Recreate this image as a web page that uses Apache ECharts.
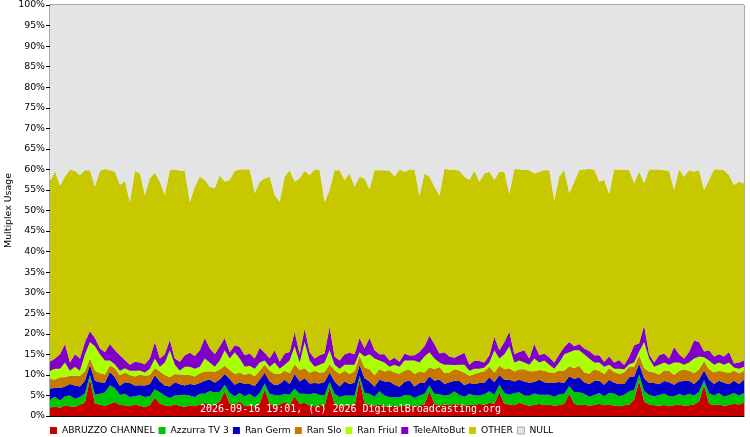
<!DOCTYPE html>
<html>
<head>
<meta charset="utf-8">
<script src="https://cdn.jsdelivr.net/npm/echarts@6/dist/echarts.min.js"></script>
<style>
html,body{margin:0;padding:0;background:#fff;}
#chart{width:750px;height:437px;}
</style>
</head>
<body>
<div id="chart"></div>
<script>
const seriesNames = ['ABRUZZO CHANNEL','Azzurra TV 3','Ran Germ','Ran Slo','Ran Friul','TeleAltoBut','OTHER','NULL'];
const seriesColors = ['#c80000','#00c800','#0000c8','#c87800','#aaff00','#8000c8','#c8c800','#e4e4e4'];
const yTicks = [0,5,10,15,20,25,30,35,40,45,50,55,60,65,70,75,80,85,90,95,100];

const abruzzo = [2.0,2.3,2.0,2.6,2.4,2.2,2.8,3.2,9.0,3.0,2.8,2.5,2.9,3.4,2.7,2.6,2.4,2.8,2.5,2.2,
2.6,4.5,3.0,2.6,2.4,2.8,2.5,2.2,2.6,2.4,2.8,3.2,2.5,2.7,3.5,6.0,3.0,2.6,3.6,2.4,
2.6,2.3,3.0,6.5,3.0,2.5,2.8,3.4,2.6,4.8,3.0,3.2,2.5,2.4,2.7,2.5,7.0,3.0,2.6,2.4,
2.8,2.5,8.8,3.2,2.6,2.5,2.8,2.4,2.2,2.6,2.3,2.5,2.7,2.4,2.6,2.8,6.0,3.0,2.5,2.8,
2.6,3.0,2.7,2.5,2.8,2.6,3.0,2.7,3.2,3.0,5.8,3.0,2.8,2.6,3.2,2.8,2.5,2.7,3.0,2.6,
2.8,2.5,2.7,3.0,5.5,3.0,2.6,2.8,2.5,2.7,3.0,2.6,2.8,2.5,2.4,2.6,2.8,4.0,8.5,3.5,
2.8,2.6,2.5,2.7,2.4,2.6,2.8,2.5,2.6,2.8,3.5,7.5,3.0,2.6,2.8,2.5,2.7,3.0,2.8,3.2];

const azzurra = [2.0,2.4,1.8,2.2,2.6,2.0,1.8,2.4,1.0,2.2,2.6,3.2,4.6,3.4,2.4,2.8,2.2,2.0,2.6,2.4,
2.2,2.0,2.8,2.4,2.0,2.2,2.6,3.0,2.4,2.2,2.6,2.2,3.6,3.0,2.4,1.6,2.6,2.2,2.0,2.4,
2.8,2.2,2.6,1.4,2.4,2.6,2.2,2.0,2.6,1.8,2.4,2.2,2.8,3.2,2.4,2.6,1.2,2.4,2.0,2.6,
2.2,2.4,1.0,2.4,2.8,2.2,3.2,2.6,2.4,2.0,2.2,2.6,2.4,2.0,2.4,2.6,1.4,2.4,2.8,2.2,
2.6,3.0,2.4,2.2,2.6,2.4,2.0,2.6,2.8,2.2,1.8,2.6,2.4,3.0,2.6,2.2,2.4,2.8,2.2,2.6,
2.4,2.2,2.6,2.4,1.8,2.8,3.2,2.6,2.2,2.4,2.6,2.2,2.8,3.0,2.4,2.6,3.2,2.4,1.6,2.6,
2.4,2.2,2.6,2.8,2.4,2.2,2.6,2.4,2.8,2.2,2.4,1.2,2.6,2.4,2.8,2.2,2.4,2.6,2.2,2.4];

const ranGerm = [2.6,2.2,3.0,2.4,2.8,3.2,2.6,3.0,2.5,3.4,2.8,2.4,3.2,2.6,2.2,2.8,3.4,2.6,2.4,2.8,
3.0,3.4,2.6,2.4,2.8,3.2,2.6,2.2,2.8,3.0,2.6,3.2,2.8,2.4,3.0,2.6,3.4,2.8,2.6,3.0,
2.4,2.8,3.2,2.6,3.0,2.4,2.8,3.4,2.6,3.6,3.0,3.8,2.6,2.4,2.8,3.2,2.4,3.0,2.6,3.4,
2.8,3.2,2.6,3.6,3.0,2.4,2.8,3.4,3.8,3.0,2.6,3.2,3.6,2.8,3.0,2.6,2.2,3.2,3.6,2.8,
3.0,2.6,3.4,2.8,2.6,2.8,3.0,2.8,3.4,3.0,2.4,3.2,3.6,2.8,3.0,3.4,3.2,2.8,3.6,3.0,
2.8,3.4,3.0,2.6,2.4,3.2,3.6,2.8,3.0,3.4,3.0,2.8,3.2,2.6,3.0,2.6,3.4,3.2,2.6,3.0,
2.8,3.2,2.6,3.0,3.4,2.8,3.0,3.6,3.2,2.8,3.0,2.4,3.2,2.8,3.0,3.4,2.6,3.0,2.8,3.2];

const ranSlo = [2.4,2.0,2.6,2.2,2.0,2.4,2.6,2.2,1.6,2.4,2.2,2.0,1.6,2.2,2.6,2.4,2.0,2.2,2.6,2.4,
2.2,1.8,2.4,2.6,2.2,2.0,2.4,2.6,2.2,2.0,2.4,2.2,2.0,2.6,2.4,2.0,2.2,2.6,2.4,2.2,
2.6,2.4,2.2,2.0,2.6,2.8,2.4,2.2,2.6,2.4,2.8,2.4,2.6,3.0,2.6,2.4,2.0,2.8,3.0,2.6,
2.4,2.8,2.2,2.6,3.0,2.8,2.6,2.4,2.8,3.0,3.2,2.8,2.6,3.0,2.8,2.6,2.2,2.8,3.0,2.6,
2.4,2.8,2.6,3.0,1.8,2.4,2.6,2.8,2.6,2.4,2.2,2.6,2.8,2.4,2.6,3.0,2.8,2.6,2.4,2.8,
2.6,2.4,2.8,3.0,2.4,2.6,2.8,2.4,2.6,2.8,2.4,2.6,2.8,2.6,2.4,2.8,2.6,2.4,2.0,2.6,
2.8,2.6,2.4,2.6,2.8,2.4,2.6,2.8,2.4,2.6,2.4,2.2,2.6,2.8,2.4,2.6,2.8,2.4,2.6,2.2];

const ranFriul = [2.0,2.6,2.1,3.6,1.2,2.2,1.2,4.2,3.9,6.0,4.6,3.4,1.2,1.0,1.1,1.0,1.0,1.4,1.0,0.8,
1.5,2.3,1.2,3.0,6.6,2.3,1.0,2.0,2.0,1.9,1.6,3.2,2.1,1.3,2.2,3.8,2.8,5.3,3.4,2.0,
1.8,1.8,2.0,1.0,1.0,2.7,1.3,1.5,3.1,4.4,1.8,6.4,3.0,1.0,2.0,2.3,3.4,1.3,1.3,1.5,
2.3,1.6,0.9,2.7,3.6,4.1,2.1,2.2,0.8,1.9,1.7,2.4,2.2,3.3,2.2,3.9,3.7,2.6,1.1,2.1,
1.9,1.0,1.4,2.0,1.2,1.3,0.9,0.9,1.0,5.4,1.8,3.6,5.4,2.2,2.1,1.6,1.6,3.1,1.8,2.5,
1.9,1.0,1.9,4.0,3.4,4.4,3.8,4.4,3.7,1.7,2.0,1.8,0.9,0.8,1.3,0.8,0.6,1.0,1.0,6.3,
3.2,1.4,2.4,1.9,1.5,3.0,2.0,1.2,2.0,3.6,3.2,1.0,2.1,1.9,2.0,1.8,2.5,0.8,1.1,1.0];

const teleAltoBut = [2.2,2.5,3.5,4.5,2.0,3.0,3.0,3.0,2.6,2.0,1.5,2.0,4.0,3.4,3.8,2.0,1.5,2.2,1.9,2.0,
2.5,4.0,2.0,2.0,2.5,1.5,2.1,2.8,3.4,3.1,4.0,5.0,3.5,3.0,3.5,3.0,1.5,1.7,2.8,2.8,
3.0,2.5,3.6,1.9,2.0,3.0,1.7,2.7,2.1,3.5,2.0,3.3,2.1,2.0,2.3,2.2,5.7,2.0,2.0,2.5,
2.9,2.5,3.5,2.0,4.0,2.0,1.5,2.0,1.5,1.7,1.2,1.7,1.2,1.3,2.6,2.5,4.0,3.5,2.2,3.0,
2.0,1.8,2.3,2.9,1.5,2.0,1.9,1.2,1.8,3.3,2.0,3.0,3.5,2.0,2.1,3.0,1.5,3.5,1.8,1.7,
1.8,1.5,2.0,1.8,2.5,1.0,1.5,1.4,1.8,1.8,1.8,1.2,2.0,1.5,2.1,1.0,1.8,4.2,2.0,4.0,
1.0,1.0,2.3,2.2,1.5,3.8,2.0,1.5,2.6,4.4,3.5,1.4,2.5,2.0,2.0,2.0,2.6,1.0,1.5,1.5];

// top edge of the used part (sum of all services incl. OTHER)
const usedTotal = [57.0,59.6,56.0,58.2,60.0,59.6,58.6,59.8,59.8,55.8,59.6,60.1,59.8,59.4,56.2,57.2,52.0,59.7,59.0,53.8,
57.8,59.2,57.0,53.8,59.8,60.0,59.7,59.7,52.0,55.8,58.2,57.4,55.8,55.4,58.6,57.0,57.4,59.7,60.0,60.0,
60.0,54.2,57.0,57.8,58.2,53.8,52.1,58.2,59.8,57.0,57.8,59.7,58.6,60.0,59.8,52.0,55.0,59.8,59.8,57.4,
59.0,55.8,58.2,57.8,55.2,59.8,59.8,59.8,59.7,58.2,60.0,59.4,59.9,60.0,53.5,59.0,58.2,55.8,53.6,60.1,
60.0,59.9,59.7,58.2,57.4,59.7,57.0,59.0,59.4,57.4,59.4,59.4,54.0,60.1,60.0,59.9,59.8,59.0,59.4,59.8,
59.8,52.5,58.2,59.8,54.2,57.0,59.8,60.0,60.1,60.0,57.0,57.4,54.0,60.0,60.0,59.9,59.8,56.6,59.4,56.6,
60.0,60.0,60.0,59.8,59.6,55.0,60.0,58.2,59.8,59.4,59.8,55.0,57.4,60.0,60.0,59.8,58.6,56.2,57.0,56.6];

const categories = abruzzo.map((_, i) => String(i));
const lower = [abruzzo, azzurra, ranGerm, ranSlo, ranFriul, teleAltoBut];
const other = usedTotal.map((t, i) => +(t - lower.reduce((s, a) => s + a[i], 0)).toFixed(2));
const nullPart = usedTotal.map(t => +(100 - t).toFixed(2));
const allData = [abruzzo, azzurra, ranGerm, ranSlo, ranFriul, teleAltoBut, other, nullPart];

const chart = echarts.init(document.getElementById('chart'), null, {renderer: 'canvas'});
const series = seriesNames.map((name, k) => ({
  name: name,
  type: 'line',
  stack: 'total',
  data: allData[k],
  showSymbol: false,
  symbol: 'none',
  lineStyle: {width: 0},
  areaStyle: {color: seriesColors[k], opacity: 1},
  itemStyle: {color: seriesColors[k]},
  emphasis: {disabled: true},
  animation: false,
  z: 2
}));

chart.setOption({
  animation: false,
  backgroundColor: '#ffffff',
  grid: {left: 50, right: 6, top: 5, bottom: 21, containLabel: false, outerBoundsMode: 'none',
         show: true, borderColor: '#555', borderWidth: 1, backgroundColor: '#e4e4e4'},
  legend: {
    left: 45, top: 421,
    itemWidth: 7, itemHeight: 7, itemGap: 4,
    icon: 'rect',
    textStyle: {fontFamily: 'DejaVu Sans', fontSize: 9.2, color: '#000'},
    data: seriesNames.map((n, k) => k === 7 ? {name: n, itemStyle: {borderColor: '#aaa', borderWidth: 1}} : {name: n})
  },
  xAxis: {
    type: 'category', data: categories, boundaryGap: false,
    axisLine: {show: true, lineStyle: {color: '#000', width: 1}},
    axisTick: {show: false}, axisLabel: {show: false}, splitLine: {show: false}
  },
  yAxis: {
    type: 'value', min: yTicks[0], max: yTicks[yTicks.length - 1], interval: 5,
    name: 'Multiplex Usage', nameLocation: 'middle', nameGap: 37, nameRotate: 90, nameMoveOverlap: false,
    nameTextStyle: {fontFamily: 'DejaVu Sans', fontSize: 9.4, color: '#000'},
    axisLine: {show: true, lineStyle: {color: '#000', width: 1}},
    axisTick: {show: true, length: 4, inside: false, lineStyle: {color: '#000'}},
    axisLabel: {formatter: '{value}%', fontFamily: 'DejaVu Sans', fontSize: 9.4, color: '#000', margin: 5},
    splitLine: {show: false}
  },
  graphic: [{
    type: 'text', left: 200, top: 404, z: 100,
    style: {text: '2026-09-16 19:01, (c) 2026 DigitalBroadcasting.org', fill: '#fff', font: '10px "DejaVu Sans Mono"'}
  }],
  series: series
});
</script>
</body>
</html>
